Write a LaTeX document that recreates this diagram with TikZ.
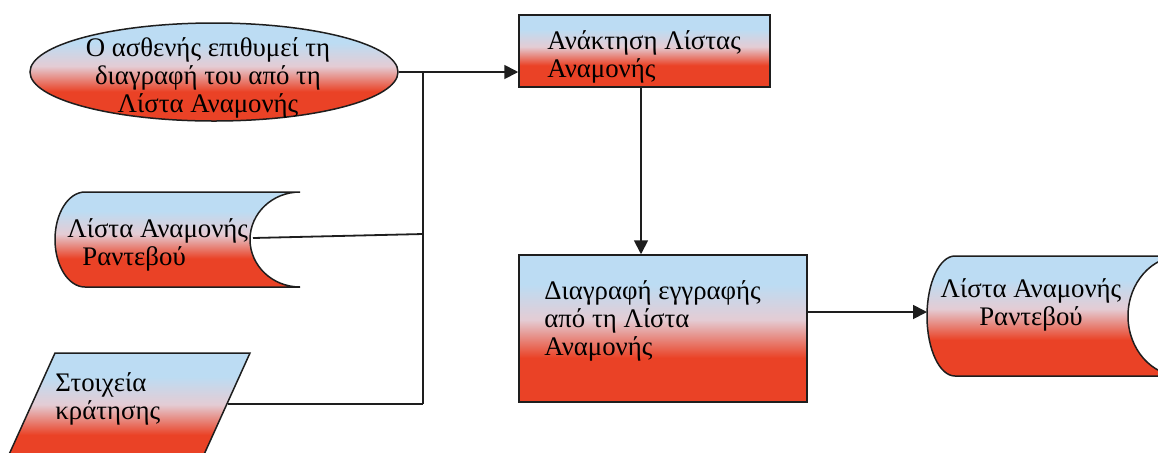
\documentclass[tikz,border=0pt]{standalone}
\usepackage{fontspec}
\setmainfont{Liberation Serif}
\usetikzlibrary{shapes.geometric,arrows.meta}

\definecolor{fblue}{RGB}{188,220,243}
\definecolor{fmid}{RGB}{228,204,212}
\definecolor{fred}{RGB}{234,66,38}
\definecolor{ink}{RGB}{30,30,30}

% light blue on top, fading through pale pink to red at the bottom
% (a shape's box covers the band from 25bp to 75bp of the shading)
\pgfdeclareverticalshading{flow}{100bp}{color(0bp)=(fred); color(40bp)=(fred); color(53bp)=(fmid); color(65bp)=(fblue); color(100bp)=(fblue)}

\tikzset{
  shapebox/.style={draw=ink, line width=0.75pt, shading=flow},
  label/.style={font=\fontsize{13.4}{14}\selectfont, inner sep=0pt, text=black},
  link/.style={draw=ink, line width=0.9pt},
  arrow/.style={link, -{Triangle[length=7pt,width=7pt]}}
}

\begin{document}
\begin{tikzpicture}[x=0.5pt, y=-0.5pt]
  \useasboundingbox (0,0) rectangle (1158,452);
  \fill[white] (0,0) rectangle (1158,452);
  \clip (0,0) rectangle (1158,452);

  % patient request (ellipse)
  \node[shapebox, ellipse, minimum width=184pt, minimum height=49pt, inner sep=0pt] (ell) at (214,72) {};
  \node[label, align=center] (ellt) at (208,78) {Ο ασθενής επιθυμεί τη\\διαγραφή του από τη\\Λίστα Αναμονής};

  % retrieve waiting list (process)
  \node[shapebox, rectangle, minimum width=125.5pt, minimum height=36pt, inner sep=0pt] (ret) at (644.5,51) {};
  \node[label, align=left, anchor=west] (rett) at (547,57) {Ανάκτηση Λίστας\\Αναμονής};

  % delete entry (process)
  \node[shapebox, rectangle, minimum width=144pt, minimum height=73.5pt, inner sep=0pt] (del) at (663,328.5) {};
  \node[label, align=left, anchor=west] (delt) at (544,321) {Διαγραφή εγγραφής\\από τη Λίστα\\Αναμονής};

  % appointment waiting list, input store
  \path[shapebox] (85,192) -- (300,192)
    .. controls (272.4,192) and (250,213.3) .. (250,239.5)
    .. controls (250,265.7) and (272.4,287) .. (300,287)
    -- (85,287)
    .. controls (68.4,287) and (55,265.7) .. (55,239.5)
    .. controls (55,213.3) and (68.4,192) .. (85,192) -- cycle;
  \node[label, align=left, anchor=west] (lstt) at (67,245) {Λίστα Αναμονής\\\hspace{7.5pt}Ραντεβού};
  \coordinate (lst-out) at (253,238);

  % booking data (parallelogram)
  \path[shapebox] (55,353) -- (250,353) -- (197,470) -- (2,470) -- cycle;
  \node[label, align=left, anchor=west] (pstt) at (55,399) {Στοιχεία\\κράτησης};
  \coordinate (pst-out) at (228,404);

  % appointment waiting list, output store
  \path[shapebox] (955,256) -- (1181,256)
    .. controls (1151.7,256) and (1128,282.9) .. (1128,316)
    .. controls (1128,349.1) and (1151.7,376) .. (1181,376)
    -- (955,376)
    .. controls (939.5,376) and (927,349.1) .. (927,316)
    .. controls (927,282.9) and (939.5,256) .. (955,256) -- cycle;
  \node[label, align=center] (rstt) at (1031,305) {Λίστα Αναμονής\\Ραντεβού};
  \coordinate (rst-in) at (927,312);

  % connectors
  \coordinate (j1) at (423,72);
  \coordinate (j2) at (423,234);
  \coordinate (j3) at (423,404);
  \draw[link] (ell.east) -- (j1);
  \draw[arrow] (j1) -- (j1 -| ret.west);
  \draw[link] (j1) -- (j3);
  \draw[link] (lst-out) -- (j2);
  \draw[link] (pst-out) -- (j3);
  \draw[arrow] ([xshift=-1.75pt]ret.south) -- ([xshift=-1.75pt]ret.south |- del.north);
  \draw[arrow] (del.east |- rst-in) -- (rst-in);
\end{tikzpicture}
\end{document}
